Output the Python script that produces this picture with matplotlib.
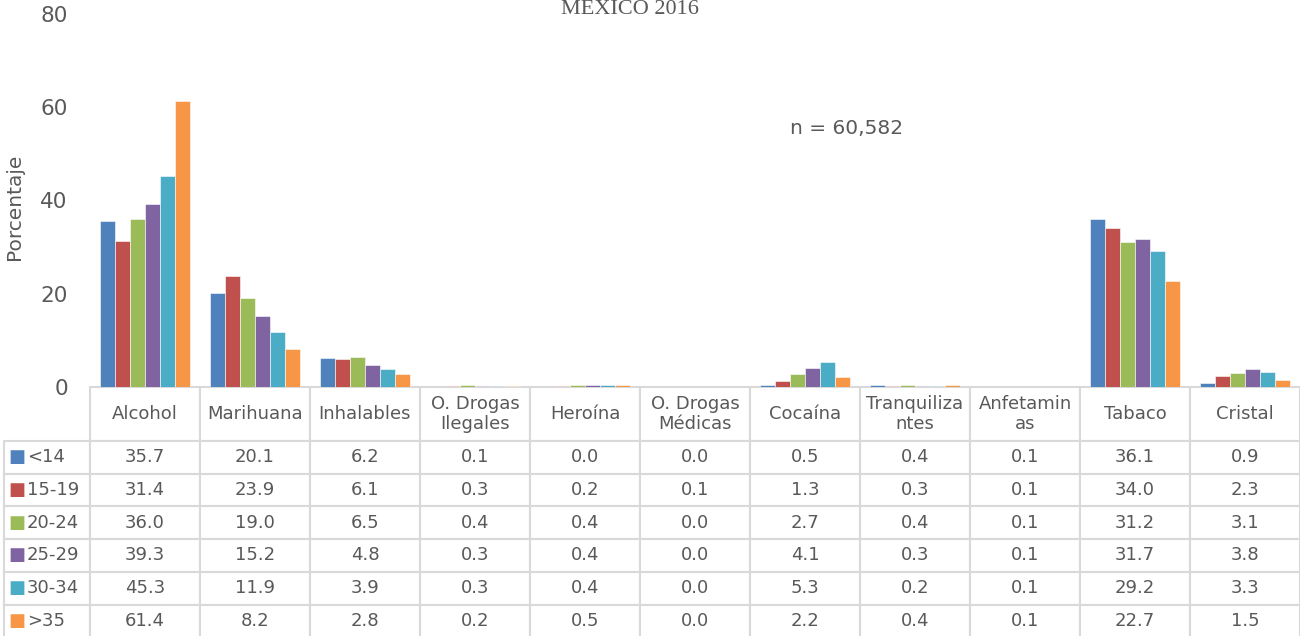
import matplotlib
matplotlib.use("Agg")
import matplotlib.pyplot as plt
import numpy as np

plt.rcParams["font.family"] = ["DejaVu Sans"]

categories = ["Alcohol", "Marihuana", "Inhalables", "O. Drogas\nIlegales", "Heroína",
              "O. Drogas\nMédicas", "Cocaína", "Tranquiliza\nntes", "Anfetamin\nas",
              "Tabaco", "Cristal"]
age_groups = ["<14", "15-19", "20-24", "25-29", "30-34", ">35"]

under_14 = [35.7, 20.1, 6.2, 0.1, 0.0, 0.0, 0.5, 0.4, 0.1, 36.1, 0.9]
age_15_19 = [31.4, 23.9, 6.1, 0.3, 0.2, 0.1, 1.3, 0.3, 0.1, 34.0, 2.3]
age_20_24 = [36.0, 19.0, 6.5, 0.4, 0.4, 0.0, 2.7, 0.4, 0.1, 31.2, 3.1]
age_25_29 = [39.3, 15.2, 4.8, 0.3, 0.4, 0.0, 4.1, 0.3, 0.1, 31.7, 3.8]
age_30_34 = [45.3, 11.9, 3.9, 0.3, 0.4, 0.0, 5.3, 0.2, 0.1, 29.2, 3.3]
over_35 = [61.4, 8.2, 2.8, 0.2, 0.5, 0.0, 2.2, 0.4, 0.1, 22.7, 1.5]

series = [under_14, age_15_19, age_20_24, age_25_29, age_30_34, over_35]
colors = ["#4F81BD", "#C0504D", "#9BBB59", "#8064A2", "#4BACC6", "#F79646"]
text_color = "#595959"
grid_color = "#D9D9D9"

W, H = 1300, 636
fig = plt.figure(figsize=(W / 100, H / 100), dpi=100)
# plot area in pixels: x 90..1300, y 14..387
ax = fig.add_axes([90 / W, 1 - 387 / H, 1210 / W, 373 / H])

x = np.arange(len(categories))
bar_w = 0.135
for i, (vals, col) in enumerate(zip(series, colors)):
    ax.bar(x + (i - 2.5) * bar_w, vals, bar_w, color=col, edgecolor="white",
           linewidth=0.4, label=age_groups[i])

ax.set_xlim(-0.5, len(categories) - 0.5)
ax.set_ylim(0, 80)
ax.set_yticks([0, 20, 40, 60, 80])
ax.set_xticks([])
ax.tick_params(axis="y", length=0, pad=16, labelsize=15.5, labelcolor=text_color)
for s in ax.spines.values():
    s.set_visible(False)

ax.set_ylabel("Porcentaje", fontsize=14.5, color=text_color)
ax.yaxis.set_label_coords((24 - 90) / 1210, (387 - 207) / 373)

ax.text((847 - 90) / 1210, (387 - 128) / 373, "n = 60,582", transform=ax.transAxes,
        ha="center", va="center", fontsize=14.5, color=text_color)

fig.text(630 / W, 1 - 14 / H, "MEXICO 2016", ha="center", va="baseline",
         family="Liberation Serif", fontsize=16, color=text_color)

# data table under the bars, first column holds the legend keys
header_h, row_h, label_w, col_w = 54, 32.7, 86, 110
table_h = header_h + row_h * len(series)
cell_text = [[""] + ["{:.1f}".format(v) for v in vals] for vals in series]
tbl = ax.table(cellText=cell_text, colLabels=[""] + categories, cellLoc="center",
               bbox=[-label_w / 1210, -table_h / 373, 1 + label_w / 1210, table_h / 373])
tbl.auto_set_font_size(False)
tbl.set_fontsize(13)
for (r, c), cell in tbl.get_celld().items():
    cell.set_edgecolor(grid_color)
    cell.set_linewidth(1.5)
    cell.get_text().set_color(text_color)
    cell.set_height(header_h if r == 0 else row_h)
    cell.set_width(label_w if c == 0 else col_w)
tbl[0, 0].set_edgecolor("none")
tbl[0, 0].set_facecolor("none")

# legend keys in the first column
for i, (name, col) in enumerate(zip(age_groups, colors)):
    yc = -(header_h + row_h * i + row_h / 2) / 373
    ax.text((16.5 - 90) / 1210, yc, "■", transform=ax.transAxes, ha="center",
            va="center", fontsize=13, color=col)
    ax.text((27 - 90) / 1210, yc, name, transform=ax.transAxes, ha="left",
            va="center", fontsize=13, color=text_color)

fig.savefig("out.png", dpi=100)
